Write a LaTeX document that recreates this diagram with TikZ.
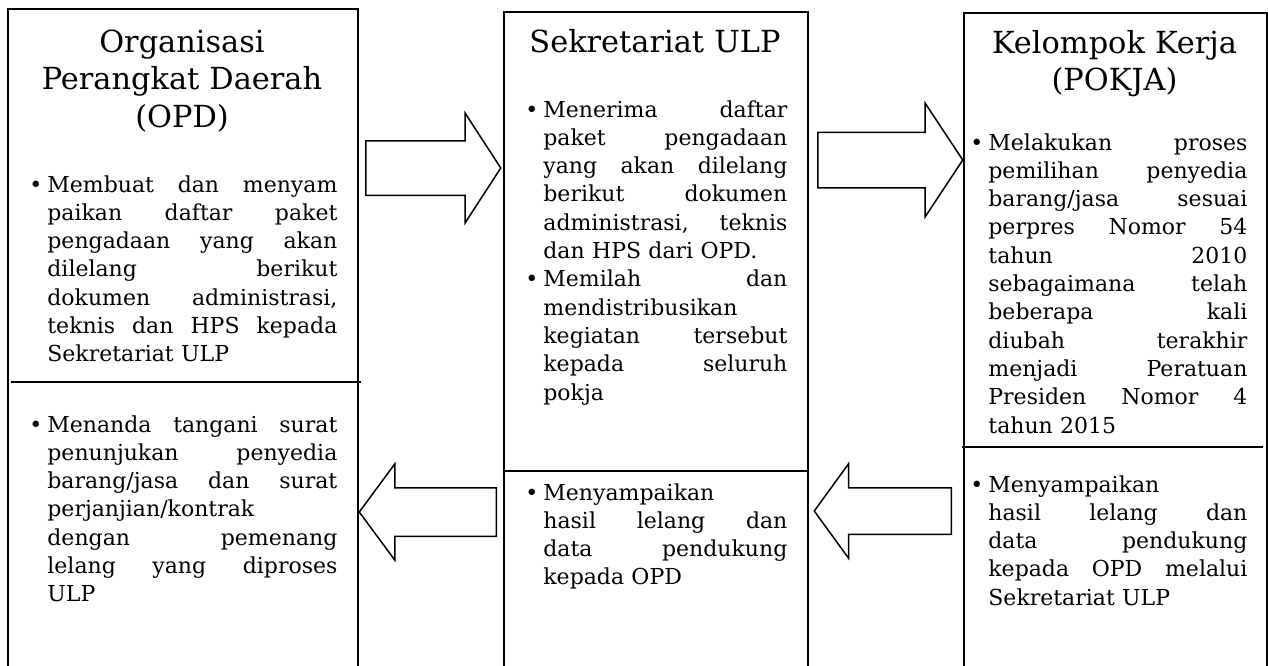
\documentclass[tikz,border=0pt]{standalone}
\usepackage{fontspec}
\setmainfont{DejaVu Serif}
\usetikzlibrary{positioning,shapes.arrows}
\newcommand{\bul}{\leavevmode\llap{\textbullet\hspace{2.5pt}}}
\newcommand{\jline}[1]{\makebox[\hsize][s]{\spaceskip=0pt\xspaceskip=0pt #1}\\}
\tikzset{
    panel/.style={draw,line width=1pt,anchor=north west,minimum height=340pt,minimum width=#1,inner sep=0pt},
    heading/.style={anchor=base,align=center,text width=#1,font=\fontsize{15.2}{18.75}\selectfont,inner sep=0pt},
    body/.style={anchor=base west,align=left,text width=#1,font=\fontsize{11}{14.15}\selectfont,inner sep=0pt},
    divider/.style={line width=1pt},
    blockarr/.style={single arrow,draw,line width=0.75pt,inner xsep=0pt,anchor=tail},
}

\begin{document}
\begin{tikzpicture}[x=0.5pt,y=-0.5pt]
    \useasboundingbox (0,0) rectangle (1268,665);
    % the three columns
    \node[panel=175pt] (opd) at (7,8) {};
    \node[panel=152pt] (ulp) at (503,11) {};
    \node[panel=151.5pt] (pokja) at (963,12) {};

    \draw[divider] (11,382) -- (361,382);
    \draw[divider] (503,471) -- (807,471);
    \draw[divider] (962,447) -- (1263,447);

    % headings
    \node[heading=175pt] (t1) at (182,52) {Organisasi\\Perangkat Daerah\\(OPD)};
    \node[heading=152pt] (t2) at (655,52) {Sekretariat ULP};
    \node[heading=151.5pt] (t3) at (1114.5,53) {Kelompok Kerja\\(POKJA)};

    % OPD
    \node[body=145pt] (b1) at (47,192) {\jline{\bul Membuat dan menyam}
        \jline{paikan daftar paket}
        \jline{pengadaan yang akan}
        \jline{dilelang berikut}
        \jline{dokumen administrasi,}
        \jline{teknis dan HPS kepada}
        Sekretariat ULP};
    \node[body=145pt] (b2) at (47,432) {\jline{\bul Menanda tangani surat}
        \jline{penunjukan penyedia}
        \jline{barang/jasa dan surat}
        perjanjian/kontrak\\
        \jline{dengan pemenang}
        \jline{lelang yang diproses}
        ULP};

    % Sekretariat ULP
    \node[body=122pt] (b3) at (543,117) {\jline{\bul Menerima daftar}
        \jline{paket pengadaan}
        \jline{yang akan dilelang}
        \jline{berikut dokumen}
        \jline{administrasi, teknis}
        dan HPS dari OPD.\\
        \jline{\bul Memilah dan}
        mendistribusikan\\
        \jline{kegiatan tersebut}
        \jline{kepada seluruh}
        pokja};
    \node[body=122pt] (b4) at (543,500) {\bul Menyampaikan\\
        \jline{hasil lelang dan}
        \jline{data pendukung}
        kepada OPD};

    % POKJA
    \node[body=129.5pt] (b5) at (988,150) {\jline{\bul Melakukan proses}
        \jline{pemilihan penyedia}
        \jline{barang/jasa sesuai}
        \jline{perpres Nomor 54}
        \jline{tahun 2010}
        \jline{sebagaimana telah}
        \jline{beberapa kali}
        \jline{diubah terakhir}
        \jline{menjadi Peratuan}
        \jline{Presiden Nomor 4}
        tahun 2015};
    \node[body=129.5pt] (b6) at (988,492) {\bul Menyampaikan\\
        \jline{hasil lelang dan}
        \jline{data pendukung}
        \jline{kepada OPD melalui}
        Sekretariat ULP};

    % block arrows
    \node[blockarr,minimum height=67.5pt,inner ysep=13.25pt,single arrow head extend=13.75pt,single arrow tip angle=114] (a1) at (365,168) {};
    \node[blockarr,minimum height=72.5pt,inner ysep=13.5pt,single arrow head extend=14.5pt,single arrow tip angle=113] (a2) at (817,160) {};
    \node[blockarr,shape border rotate=180,minimum height=68.5pt,inner ysep=11.75pt,single arrow head extend=12pt,single arrow tip angle=107] (a3) at (497,512) {};
    \node[blockarr,shape border rotate=180,minimum height=68.5pt,inner ysep=11.25pt,single arrow head extend=12pt,single arrow tip angle=108] (a4) at (952,511) {};
\end{tikzpicture}
\end{document}
